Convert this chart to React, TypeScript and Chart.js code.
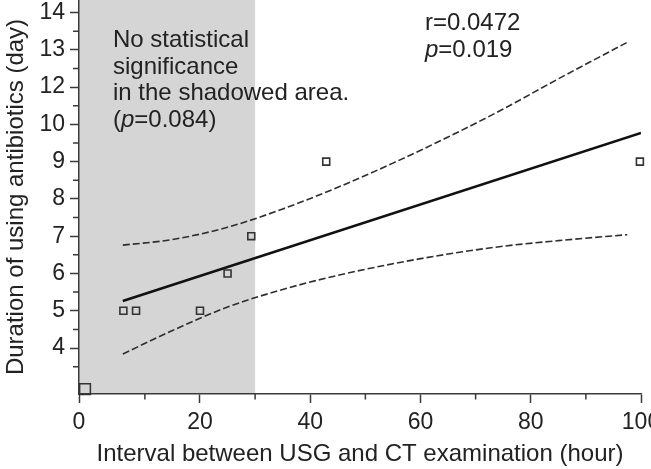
import { useEffect, useRef } from "react";
import { Chart, registerables } from "chart.js";

Chart.register(...registerables);

// ---- data ----
const pointX = [6.1, 8.4, 20, 25, 29.3, 42.9, 99.8];
const pointY = [5, 5, 5, 6, 7, 9, 9];
const cornerX = [-0.86];
const cornerY = [2.9];
const fitX = [6, 100];
const fitY = [5.26, 9.77];
const bandX = [6, 15, 25, 35, 45, 55, 65, 75, 85, 97.5];
const upperY = [6.76, 6.91, 7.24, 7.73, 8.31, 8.96, 9.66, 10.41, 11.22, 12.2];
const lowerY = [3.84, 4.47, 5.1, 5.57, 5.95, 6.26, 6.52, 6.73, 6.88, 7.04];

// ---- axes ----
const xMin = -1.95;
const xMax = 100;
const yMin = 2.767;
const yMax = 13.335;
const xMajorTicks = [-1.95, 20, 40, 60, 80, 100];
const xTickLabels = ["0", "20", "40", "60", "80", "100"];
const xMinorTicks = [10, 30, 50, 70, 90];
const yMajorTicks = [4, 5, 6, 7, 8, 9, 10, 11, 12, 13];
const yTickLabels = ["4", "5", "6", "7", "8", "9", "10", "12", "13", "14"];
const yMinorTicks = [3.5, 4.5, 5.5, 6.5, 7.5, 8.5, 9.5, 10.5, 11.5, 12.5];
const shadeEnd = 30;

const xTitle = "Interval between USG and CT examination (hour)";
const yTitle = "Duration of using antibiotics (day)";
const noteLines = ["No statistical", "significance", "in the shadowed area."];
const noteP = "=0.084)";
const statR = "r=0.0472";
const statP = "=0.019";

const FONT = "'Liberation Sans', Arial, Helvetica, sans-serif";
const INK = "#222222";
const AXIS = "#3a3a3a";

function drawMixed(ctx: CanvasRenderingContext2D, parts: [string, boolean][], x: number, y: number, size: number) {
  let cx = x;
  for (const [t, it] of parts) {
    ctx.font = `${it ? "italic " : ""}${size}px ${FONT}`;
    ctx.fillText(t, cx, y);
    cx += ctx.measureText(t).width;
  }
}

const decorPlugin = {
  id: "decor",
  beforeDraw(chart: any) {
    const { ctx, chartArea, scales } = chart;
    ctx.save();
    ctx.fillStyle = "#ffffff";
    ctx.fillRect(0, 0, chart.width, chart.height);
    ctx.fillStyle = "#d5d5d5";
    const xe = scales.x.getPixelForValue(shadeEnd);
    ctx.fillRect(chartArea.left, chartArea.top, xe - chartArea.left, chartArea.bottom - chartArea.top);
    ctx.restore();
  },
  afterDraw(chart: any) {
    const { ctx, chartArea, scales } = chart;
    ctx.save();
    ctx.strokeStyle = AXIS;
    ctx.lineWidth = 1.5;
    ctx.beginPath();
    for (const v of xMinorTicks) {
      const px = scales.x.getPixelForValue(v);
      ctx.moveTo(px, chartArea.bottom);
      ctx.lineTo(px, chartArea.bottom + 5.5);
    }
    for (const v of yMinorTicks) {
      const py = scales.y.getPixelForValue(v);
      ctx.moveTo(chartArea.left - 6, py);
      ctx.lineTo(chartArea.left, py);
    }
    ctx.stroke();

    ctx.fillStyle = INK;
    ctx.textAlign = "left";
    ctx.textBaseline = "alphabetic";
    const size = 24;
    noteLines.forEach((l, i) => drawMixed(ctx, [[l, false]], 113, 47 + 26.7 * i, size));
    drawMixed(ctx, [["(", false], ["p", true], [noteP, false]], 113, 47 + 26.7 * 3, size);
    drawMixed(ctx, [[statR, false]], 425, 30, size);
    drawMixed(ctx, [["p", true], [statP, false]], 425, 57, size);
    ctx.restore();
  },
};

export default function App() {
  const ref = useRef<HTMLCanvasElement | null>(null);
  useEffect(() => {
    if (!ref.current) return;
    const chart = new Chart(ref.current, {
      type: "scatter",
      data: {
        datasets: [
          {
            type: "line",
            label: "fit",
            data: fitX.map((x, i) => ({ x, y: fitY[i] })),
            borderColor: "#111111",
            borderWidth: 2.7,
            pointRadius: 0,
            fill: false,
          },
          {
            type: "line",
            label: "upper",
            data: bandX.map((x, i) => ({ x, y: upperY[i] })),
            borderColor: "#2e2e2e",
            borderWidth: 1.6,
            borderDash: [7, 3],
            pointRadius: 0,
            cubicInterpolationMode: "monotone",
            fill: false,
          },
          {
            type: "line",
            label: "lower",
            data: bandX.map((x, i) => ({ x, y: lowerY[i] })),
            borderColor: "#2e2e2e",
            borderWidth: 1.6,
            borderDash: [7, 3],
            pointRadius: 0,
            cubicInterpolationMode: "monotone",
            fill: false,
          },
          {
            label: "cases",
            data: pointX.map((x, i) => ({ x, y: pointY[i] })),
            pointStyle: "rect",
            pointRadius: 4.9,
            borderColor: "#333333",
            borderWidth: 1.6,
            backgroundColor: "rgba(0,0,0,0)",
            clip: false,
          },
          {
            label: "corner",
            data: cornerX.map((x, i) => ({ x, y: cornerY[i] })),
            pointStyle: "rect",
            pointRadius: 7.6,
            borderColor: "#333333",
            borderWidth: 1.5,
            backgroundColor: "rgba(0,0,0,0)",
            clip: false,
          },
        ],
      },
      options: {
        animation: false,
        responsive: false,
        maintainAspectRatio: false,
        layout: { autoPadding: false, padding: { left: 0, top: 0, right: 10, bottom: 0 } },
        plugins: { legend: { display: false }, tooltip: { enabled: false } },
        scales: {
          x: {
            type: "linear",
            min: xMin,
            max: xMax,
            afterBuildTicks: (s: any) => {
              s.ticks = xMajorTicks.map((v) => ({ value: v }));
            },
            afterFit: (s: any) => {
              s.height = 75;
              s.paddingLeft = 0;
              s.paddingRight = 0;
            },
            ticks: {
              autoSkip: false,
              maxRotation: 0,
              padding: 6,
              color: INK,
              font: { family: FONT, size: 23 },
              callback: (_v: any, i: number) => xTickLabels[i],
            },
            grid: { display: true, drawOnChartArea: false, drawTicks: true, tickLength: 9, tickColor: AXIS, tickWidth: 1.5 },
            border: { display: true, color: AXIS, width: 1.5 },
            title: { display: true, text: xTitle, color: INK, font: { family: FONT, size: 24 }, padding: { top: 0, bottom: 0 } },
          },
          y: {
            type: "linear",
            min: yMin,
            max: yMax,
            afterBuildTicks: (s: any) => {
              s.ticks = yMajorTicks.map((v) => ({ value: v }));
            },
            afterFit: (s: any) => {
              s.width = 79;
              s.paddingTop = 0;
              s.paddingBottom = 0;
            },
            ticks: {
              autoSkip: false,
              padding: 5,
              color: INK,
              font: { family: FONT, size: 23 },
              callback: (_v: any, i: number) => yTickLabels[i],
            },
            grid: { display: true, drawOnChartArea: false, drawTicks: true, tickLength: 9, tickColor: AXIS, tickWidth: 1.5 },
            border: { display: true, color: AXIS, width: 1.5 },
            title: { display: true, text: yTitle, color: INK, font: { family: FONT, size: 24 }, padding: { top: 2, bottom: 0 } },
          },
        },
      },
      plugins: [decorPlugin],
    } as any);
    return () => chart.destroy();
  }, []);

  return (
    <div style={{ position: "absolute", left: 0, top: 0, width: 651, height: 469, background: "#fff" }}>
      <canvas ref={ref} width={651} height={469} style={{ display: "block", width: 651, height: 469 }} />
    </div>
  );
}
